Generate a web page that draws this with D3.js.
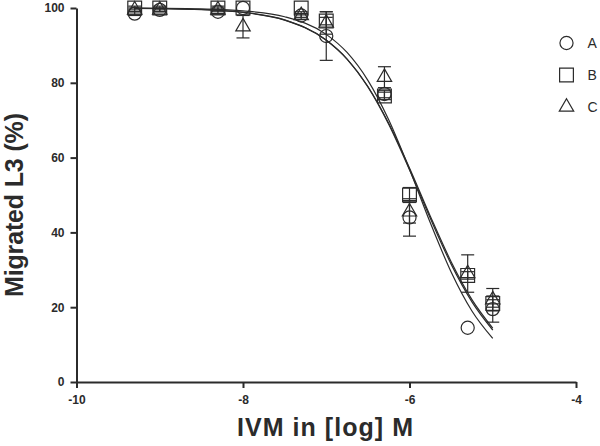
<!DOCTYPE html>
<html>
<head>
<meta charset="utf-8">
<script src="https://cdn.jsdelivr.net/npm/d3@7/dist/d3.min.js"></script>
<style>
  html, body { margin: 0; padding: 0; background: #fff; }
  svg text { font-family: "Liberation Sans", Arial, sans-serif; }
</style>
</head>
<body>
<svg id="chart" width="600" height="446"></svg>
<script>
// data: log10 concentration of IVM (M)
const logConc = [-9.301, -9, -8.301, -8, -7.301, -7, -6.301, -6, -5.301, -5];

// mean migration (%) and error per group
const meanA = [98.5, 99.5, 99, 100, 98, 92.5, 77, 44, 14.5, 19.5];
const errA  = [0.5, 0.5, 0.5, 0, 0.5, 6.5, 1, 5, 0, 3.5];
const meanB = [100, 100, 100, 100, 100, 96.5, 76.5, 50, 28.5, 21];
const errB  = [0.5, 0.5, 0.5, 0, 0, 1, 1, 2, 1, 1];
const meanC = [99.5, 99.5, 99.5, 95, 98, 96, 81.5, 45.5, 29, 22];
const errC  = [0.5, 0.5, 0.5, 3, 1, 3, 2.8, 3, 5, 3];

// fitted dose-response curves
const fitX = [-9.3, -9, -8.5, -8, -7.5, -7, -6.75, -6.5, -6.25, -6, -5.75, -5.5, -5.25, -5];
const fitA = [99.96, 99.92, 99.76, 99.25, 97.66, 92.95, 88.11, 80.65, 70.10, 56.86, 42.57, 29.42, 18.99, 11.65];
const fitB = [99.92, 99.85, 99.58, 98.83, 96.77, 91.39, 86.35, 79.02, 69.17, 57.20, 44.33, 32.17, 22.03, 14.40];
const fitC = [99.92, 99.86, 99.60, 98.86, 96.82, 91.43, 86.35, 78.91, 68.93, 56.75, 43.76, 31.52, 21.44, 13.90];

const groups = ["A", "B", "C"];
const xTicks = [-10, -8, -6, -4];
const yTicks = [0, 20, 40, 60, 80, 100];

const svg = d3.select("#chart");
const ink = "#2b2b2b";

const x = d3.scaleLinear().domain([-10, -4]).range([76.5, 576]);
const y = d3.scaleLinear().domain([0, 100]).range([382, 8]);

const shapes = { A: d3.symbolCircle, B: d3.symbolSquare, C: d3.symbolTriangle };
const sizes  = { A: 135, B: 190, C: 90 };

const series = [
  { key: "A", mean: meanA, err: errA, fit: fitA },
  { key: "B", mean: meanB, err: errB, fit: fitB },
  { key: "C", mean: meanC, err: errC, fit: fitC }
];

// axes (plain hyphen for negatives, like the original)
const fmt = d => String(d);
const xAxis = svg.append("g")
  .attr("transform", `translate(0,${y(0)})`)
  .call(d3.axisBottom(x).tickValues(xTicks).tickFormat(fmt)
    .tickSize(6).tickPadding(7).tickSizeOuter(0));
const yAxis = svg.append("g")
  .attr("transform", `translate(${x(-10)},0)`)
  .call(d3.axisLeft(y).tickValues(yTicks).tickFormat(fmt)
    .tickSize(6).tickPadding(6).tickSizeOuter(0));

[xAxis, yAxis].forEach(a => {
  a.select(".domain").attr("stroke", ink).attr("stroke-width", 2);
  a.selectAll(".tick line").attr("stroke", ink).attr("stroke-width", 2);
  a.selectAll(".tick text")
    .attr("fill", ink)
    .style("font-size", "12px")
    .style("font-weight", "bold");
});

// axis titles
svg.append("text")
  .attr("x", 325).attr("y", 436)
  .attr("text-anchor", "middle")
  .attr("textLength", 176).attr("lengthAdjust", "spacing")
  .style("font-size", "25px").style("font-weight", "bold")
  .attr("fill", ink)
  .text("IVM in [log] M");

svg.append("text")
  .attr("transform", "translate(23,205) rotate(-90)")
  .attr("text-anchor", "middle")
  .attr("textLength", 184).attr("lengthAdjust", "spacing")
  .style("font-size", "25px").style("font-weight", "bold")
  .attr("fill", ink)
  .text("Migrated L3 (%)");

// fitted curves
const line = d3.line()
  .x((d, i) => x(fitX[i]))
  .y(d => y(d))
  .curve(d3.curveMonotoneX);

svg.append("g").selectAll("path")
  .data(series)
  .join("path")
    .attr("d", s => line(s.fit))
    .attr("fill", "none")
    .attr("stroke", ink)
    .attr("stroke-width", 1.2);

// error bars + markers
series.forEach(s => {
  const g = svg.append("g");
  const pts = logConc.map((c, i) => ({ c, m: s.mean[i], e: s.err[i] }));

  const eb = g.selectAll(".err")
    .data(pts.filter(d => d.e > 0))
    .join("g")
      .attr("stroke", ink)
      .attr("stroke-width", 1.2);
  eb.append("line")
    .attr("x1", d => x(d.c)).attr("x2", d => x(d.c))
    .attr("y1", d => y(d.m - d.e)).attr("y2", d => y(d.m + d.e));
  [-1, 1].forEach(sign => {
    eb.append("line")
      .attr("x1", d => x(d.c) - 6.5).attr("x2", d => x(d.c) + 6.5)
      .attr("y1", d => y(d.m + sign * d.e)).attr("y2", d => y(d.m + sign * d.e));
  });

  g.selectAll(".pt")
    .data(pts)
    .join("path")
      .attr("transform", d => `translate(${x(d.c)},${y(d.m)})`)
      .attr("d", d3.symbol().type(shapes[s.key]).size(sizes[s.key]))
      .attr("fill", "none")
      .attr("stroke", ink)
      .attr("stroke-width", 1.2);
});

// legend
const legend = svg.append("g")
  .selectAll("g")
  .data(groups)
  .join("g")
    .attr("transform", (d, i) => `translate(566.5,${43 + i * 32})`);

legend.append("path")
  .attr("d", d => d3.symbol().type(shapes[d]).size(sizes[d])())
  .attr("fill", "none")
  .attr("stroke", ink)
  .attr("stroke-width", 1.2);

legend.append("text")
  .attr("x", 21).attr("y", 5)
  .style("font-size", "14px")
  .attr("fill", ink)
  .text(d => d);
</script>
</body>
</html>
